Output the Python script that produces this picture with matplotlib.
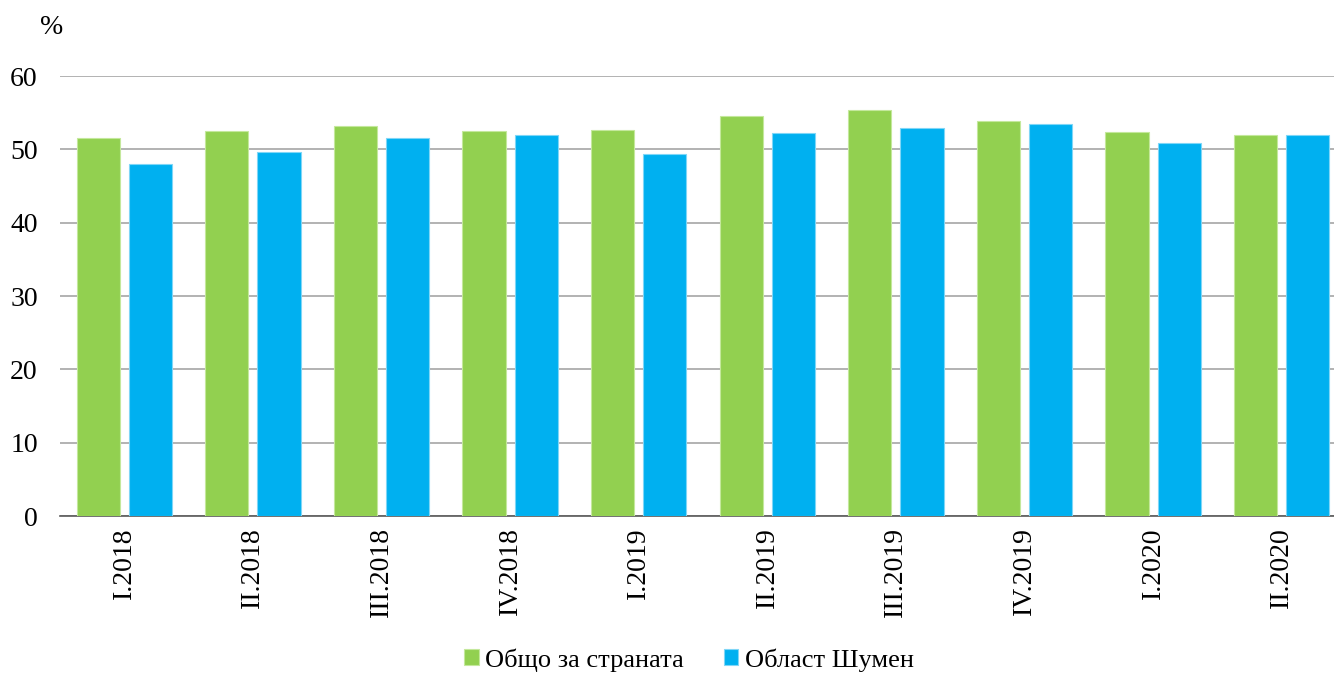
import numpy as np
import matplotlib
matplotlib.use('Agg')
import matplotlib.pyplot as plt

plt.rcParams['font.family'] = ['Liberation Serif', 'DejaVu Serif']

quarters = ['I.2018', 'II.2018', 'III.2018', 'IV.2018', 'I.2019',
            'II.2019', 'III.2019', 'IV.2019', 'I.2020', 'II.2020']
country = [51.5, 52.5, 53.2, 52.5, 52.7, 54.6, 55.3, 53.9, 52.4, 52.0]
shumen = [48.0, 49.7, 51.5, 52.0, 49.4, 52.2, 52.9, 53.4, 50.8, 52.0]

green = '#92D050'
blue = '#00B0F0'

fig = plt.figure(figsize=(13.34, 6.73), dpi=100)
ax = fig.add_axes([60/1334, 1-516/673, (1334-60)/1334, (516-76)/673])

x = np.arange(len(quarters))
w = 0.335
ax.bar(x - 0.203, country, w, color=green, edgecolor='#c4e89c', linewidth=0.8,
       label='Общо за страната', zorder=3)
ax.bar(x + 0.203, shumen, w, color=blue, edgecolor='#7fd6f7', linewidth=0.8,
       label='Област Шумен', zorder=3)

ax.set_xlim(-0.5, -0.5 + (1334-60)/128.6)
ax.set_ylim(0, 60)
ax.set_yticks(range(0, 61, 10))
ax.yaxis.grid(True, color='#a6a6a6', linewidth=1.2, zorder=0)
ax.set_axisbelow(True)
for s in ['top', 'right', 'left']:
    ax.spines[s].set_visible(False)
ax.spines['bottom'].set_color('#595959')
ax.spines['bottom'].set_linewidth(1.2)

fs = 20
ax.set_xticks(x)
ax.set_xticklabels(quarters, rotation=90, fontsize=fs)
ax.tick_params(axis='x', length=0, pad=8)
ax.tick_params(axis='y', length=0, pad=16, labelsize=fs)

fig.text(52/1334, 1-27/673, '%', fontsize=fs, ha='center', va='center')

fig.legend(loc='center', bbox_to_anchor=(689/1334, 1-660/673), ncol=2, frameon=False,
           fontsize=19, handlelength=0.55, handleheight=0.55, handletextpad=0.25,
           columnspacing=1.5)

fig.savefig('out.png', dpi=100)
